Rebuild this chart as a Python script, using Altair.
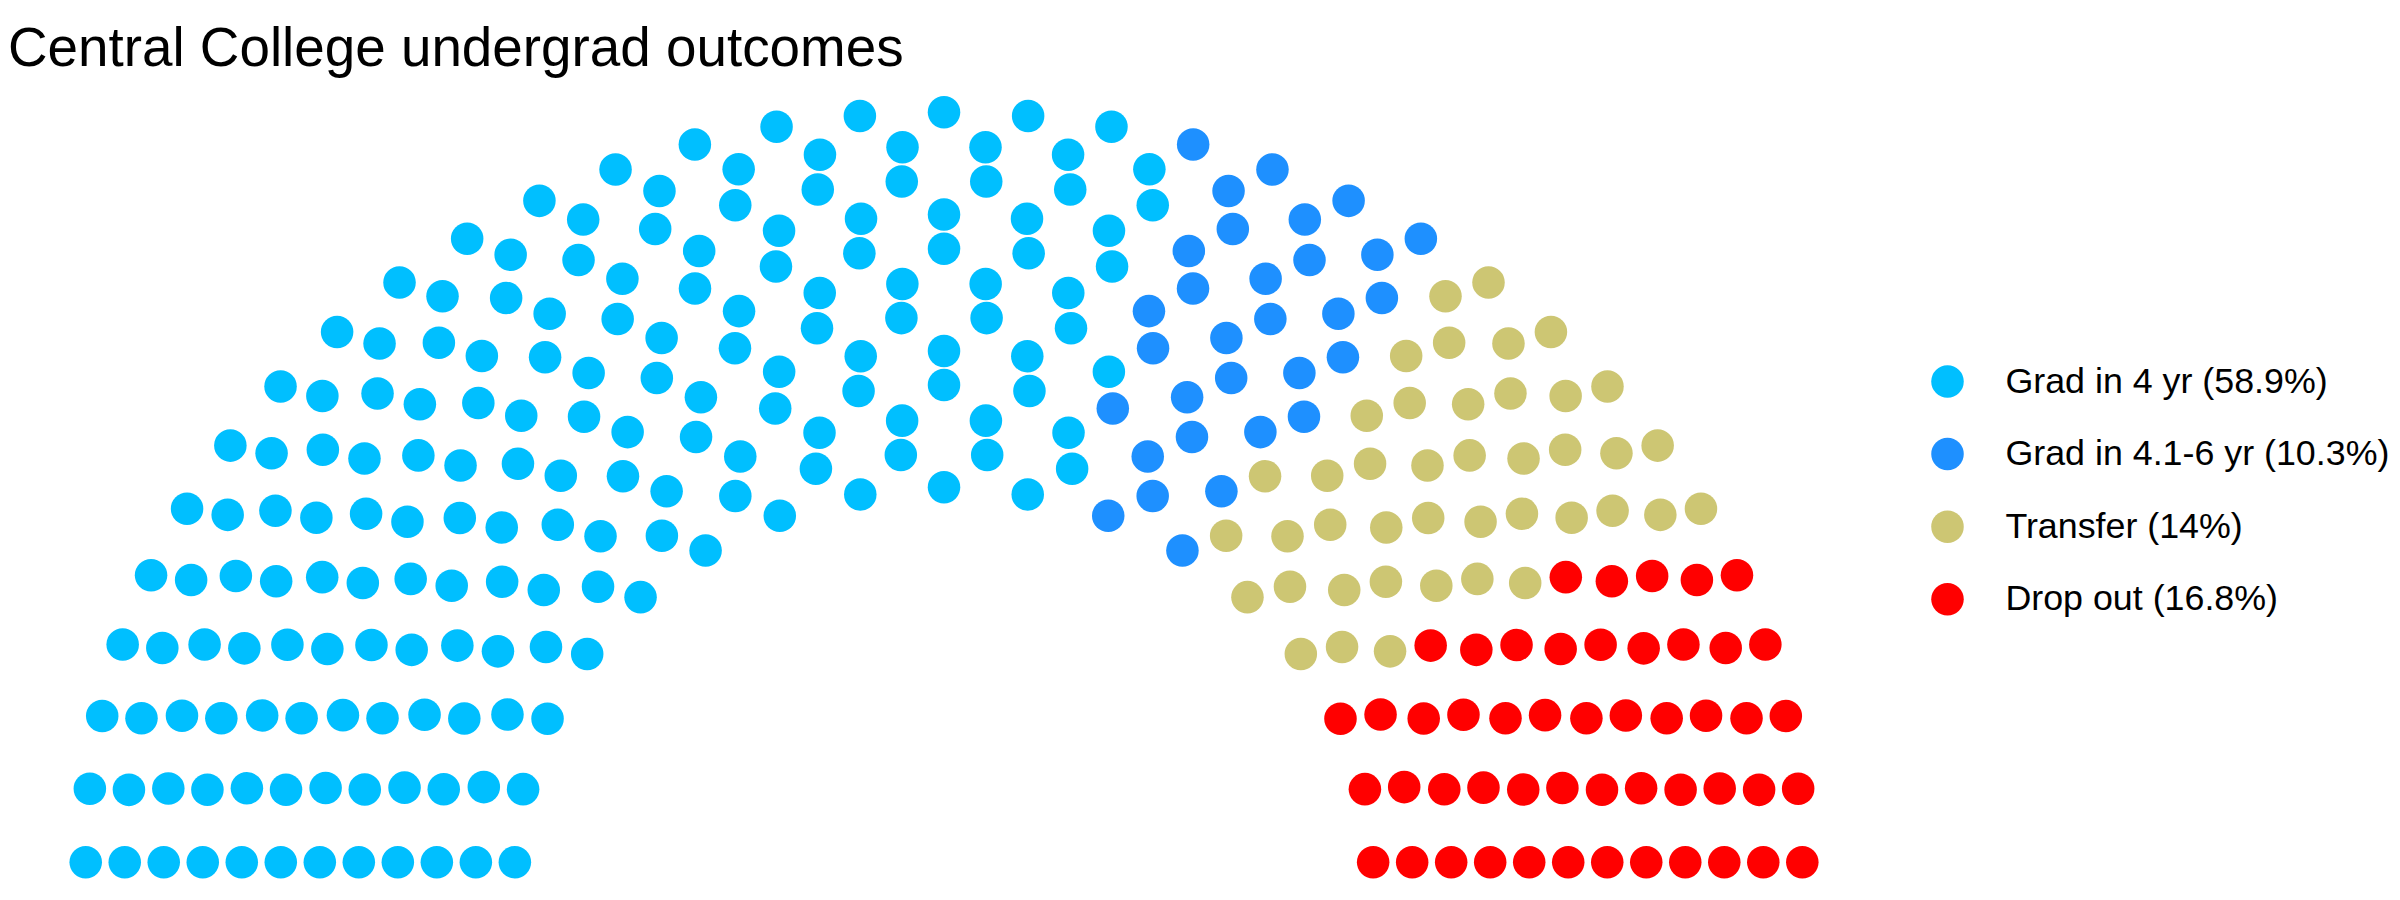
import altair as alt
import numpy as np
import pandas as pd

# ---- data ----
categories = ["Grad in 4 yr", "Grad in 4.1-6 yr", "Transfer", "Drop out"]
pct_labels = ["58.9%", "10.3%", "14%", "16.8%"]
seats = [177, 31, 42, 50]
colors = ["#00BFFF", "#1E90FF", "#CDC673", "#FF0000"]
n_rows = 12

labels = [f"{c} ({p})" for c, p in zip(categories, pct_labels)]

# ---- semicircle parliament layout (ggparliament style) ----
total = sum(seats)
radii = np.linspace(1.0, 2.0, n_rows)
remaining = total
recs = []
for i, r in enumerate(radii):
    cnt = int(np.floor(remaining * r / radii[i:].sum() + 0.5))
    remaining -= cnt
    for t in np.linspace(0, np.pi, cnt):
        recs.append({"x": r * np.cos(t), "y": r * np.sin(t), "row": i + 1, "theta": round(t, 9)})
df = pd.DataFrame(recs)
df = df.sort_values(["theta", "row"], ascending=[False, False], kind="mergesort").reset_index(drop=True)
df["party"] = np.repeat(labels, seats)

chart = alt.Chart(df).mark_circle(size=1058, opacity=1).encode(
    x=alt.X("x:Q", scale=alt.Scale(domain=[-2.1811, 2.1997], nice=False, zero=False), axis=None),
    y=alt.Y("y:Q", scale=alt.Scale(domain=[-0.0739, 2.0595], nice=False, zero=False), axis=None),
    color=alt.Color(
        "party:N",
        scale=alt.Scale(domain=labels, range=colors),
        sort=labels,
        title=None,
        legend=alt.Legend(
            orient="none", legendX=1921.6, legendY=273.6,
            symbolType="circle", symbolSize=1058, symbolStrokeWidth=0,
            labelFontSize=35.8, labelFont="Liberation Sans", labelColor="#000000",
            rowPadding=35.6, labelOffset=40, padding=0, labelLimit=700,
        ),
    ),
).properties(
    width=1880,
    height=800,
    title=alt.TitleParams(
        "Central College undergrad outcomes",
        anchor="start", frame="group", fontSize=54.8, font="Liberation Sans",
        fontWeight="normal", color="#000000", offset=26, baseline="alphabetic",
        dy=57,
    ),
    autosize=alt.AutoSizeParams(type="none"),
    padding={"left": 0, "top": 82, "right": 503, "bottom": 0},
).configure_view(strokeWidth=0)

chart.save("out.html", embed_options={"renderer": "svg", "actions": False})
